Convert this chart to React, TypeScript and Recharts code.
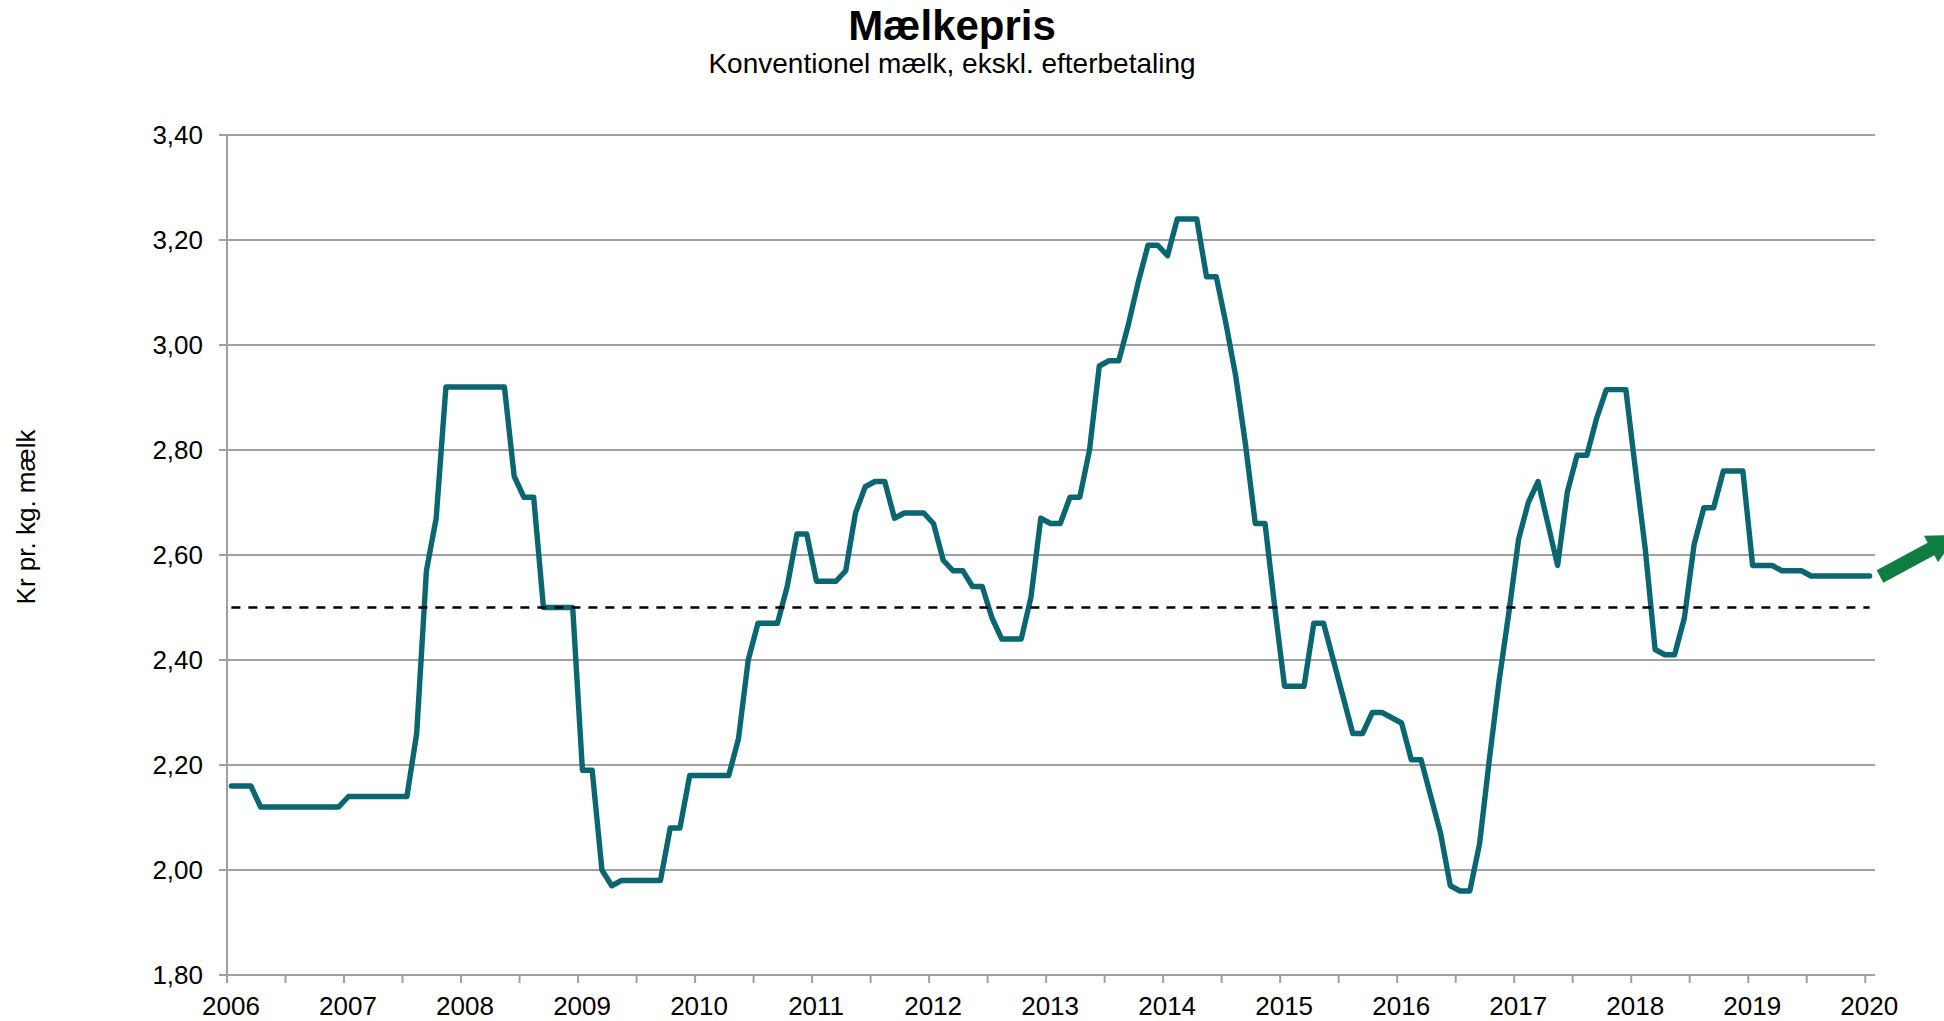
import * as React from "react"
import { LineChart, Line, XAxis, YAxis, CartesianGrid, ReferenceLine } from "recharts"

// Mælkepris, kr pr. kg, one value per month (Jan 2006 .. Jan 2020)
const firstYear = 2006
const price2006 = [2.16, 2.16, 2.16, 2.12, 2.12, 2.12, 2.12, 2.12, 2.12, 2.12, 2.12, 2.12]
const price2007 = [2.14, 2.14, 2.14, 2.14, 2.14, 2.14, 2.14, 2.26, 2.57, 2.67, 2.92, 2.92]
const price2008 = [2.92, 2.92, 2.92, 2.92, 2.92, 2.75, 2.71, 2.71, 2.5, 2.5, 2.5, 2.5]
const price2009 = [2.19, 2.19, 2.0, 1.97, 1.98, 1.98, 1.98, 1.98, 1.98, 2.08, 2.08, 2.18]
const price2010 = [2.18, 2.18, 2.18, 2.18, 2.25, 2.4, 2.47, 2.47, 2.47, 2.54, 2.64, 2.64]
const price2011 = [2.55, 2.55, 2.55, 2.57, 2.68, 2.73, 2.74, 2.74, 2.67, 2.68, 2.68, 2.68]
const price2012 = [2.66, 2.59, 2.57, 2.57, 2.54, 2.54, 2.48, 2.44, 2.44, 2.44, 2.52, 2.67]
const price2013 = [2.66, 2.66, 2.71, 2.71, 2.8, 2.96, 2.97, 2.97, 3.04, 3.12, 3.19, 3.19]
const price2014 = [3.17, 3.24, 3.24, 3.24, 3.13, 3.13, 3.04, 2.94, 2.81, 2.66, 2.66, 2.5]
const price2015 = [2.35, 2.35, 2.35, 2.47, 2.47, 2.4, 2.33, 2.26, 2.26, 2.3, 2.3, 2.29]
const price2016 = [2.28, 2.21, 2.21, 2.14, 2.07, 1.97, 1.96, 1.96, 2.05, 2.21, 2.36, 2.49]
const price2017 = [2.63, 2.7, 2.74, 2.66, 2.58, 2.72, 2.79, 2.79, 2.86, 2.915, 2.915, 2.915]
const price2018 = [2.76, 2.61, 2.42, 2.41, 2.41, 2.48, 2.62, 2.69, 2.69, 2.76, 2.76, 2.76]
const price2019 = [2.58, 2.58, 2.58, 2.57, 2.57, 2.57, 2.56, 2.56, 2.56, 2.56, 2.56, 2.56]
const price2020 = [2.56]

const threshold = 2.5
const yTicks = [1.8, 2.0, 2.2, 2.4, 2.6, 2.8, 3.0, 3.2, 3.4]
const xTicks = Array.from({ length: 29 }, (_, i) => i * 6) // every half year, in months

const allPrices = [
  ...price2006, ...price2007, ...price2008, ...price2009, ...price2010,
  ...price2011, ...price2012, ...price2013, ...price2014, ...price2015,
  ...price2016, ...price2017, ...price2018, ...price2019, ...price2020,
]

// points sit mid-month on the month axis
const data = allPrices.map((price, i) => ({ month: i + 0.45, price }))

const FONT = "'Liberation Sans', Arial, Helvetica, sans-serif"
const GRID = "#a0a0a0"
const TEAL = "#0a6670"

const fmtPrice = (v: number) => v.toFixed(2).replace(".", ",")
const fmtYear = (v: number) => (v % 12 === 0 ? String(firstYear + v / 12) : "")

export default function App() {
  const first = data[0].month
  const last = data[data.length - 1].month
  return (
    <div style={{ position: "absolute", left: 0, top: 0, width: 1944, height: 1021, overflow: "hidden", background: "#fff" }}>
      <LineChart
        width={1944}
        height={1021}
        data={data}
        margin={{ top: 135, right: 69, bottom: 0, left: 0 }}
      >
        <CartesianGrid vertical={false} stroke={GRID} strokeWidth={2} />
        <XAxis
          type="number"
          dataKey="month"
          domain={[0, 169]}
          allowDataOverflow
          ticks={xTicks}
          interval={0}
          tickFormatter={fmtYear}
          height={46}
          stroke={GRID}
          strokeWidth={2}
          tickSize={8}
          tickMargin={14}
          tick={{ fill: "#000", fontSize: 26, fontFamily: FONT, dx: 4 }}
        />
        <YAxis
          domain={[1.8, 3.4]}
          ticks={yTicks}
          interval={0}
          tickFormatter={fmtPrice}
          width={227}
          stroke={GRID}
          strokeWidth={2}
          tickSize={8}
          tickMargin={16}
          tick={{ fill: "#000", fontSize: 26, fontFamily: FONT }}
        />
        <Line
          type="linear"
          dataKey="price"
          stroke={TEAL}
          strokeWidth={5.4}
          strokeLinejoin="round"
          strokeLinecap="round"
          dot={false}
          activeDot={false}
          isAnimationActive={false}
        />
        <ReferenceLine
          segment={[{ x: first, y: threshold }, { x: last, y: threshold }]}
          stroke="#000"
          strokeWidth={2.6}
          strokeDasharray="9 8"
        />
      </LineChart>

      <svg width={1944} height={1021} style={{ position: "absolute", left: 0, top: 0, pointerEvents: "none" }}>
        <text x={952} y={40} textAnchor="middle" fontFamily={FONT} fontWeight="bold" fontSize={42} fill="#000">
          Mælkepris
        </text>
        <text x={952} y={73} textAnchor="middle" fontFamily={FONT} fontSize={28} fill="#000">
          Konventionel mælk, ekskl. efterbetaling
        </text>
        <text
          x={0}
          y={0}
          transform="translate(35 517) rotate(-90)"
          textAnchor="middle"
          fontFamily={FONT}
          fontSize={26}
          fill="#000"
        >
          Kr pr. kg. mælk
        </text>
        <polygon
          points="1876.7,570.3 1927.7,542.8 1924,535.8 1957.5,535 1938,562.2 1934.3,555.2 1883.3,582.7"
          fill="#0e7d40"
        />
      </svg>
    </div>
  )
}
